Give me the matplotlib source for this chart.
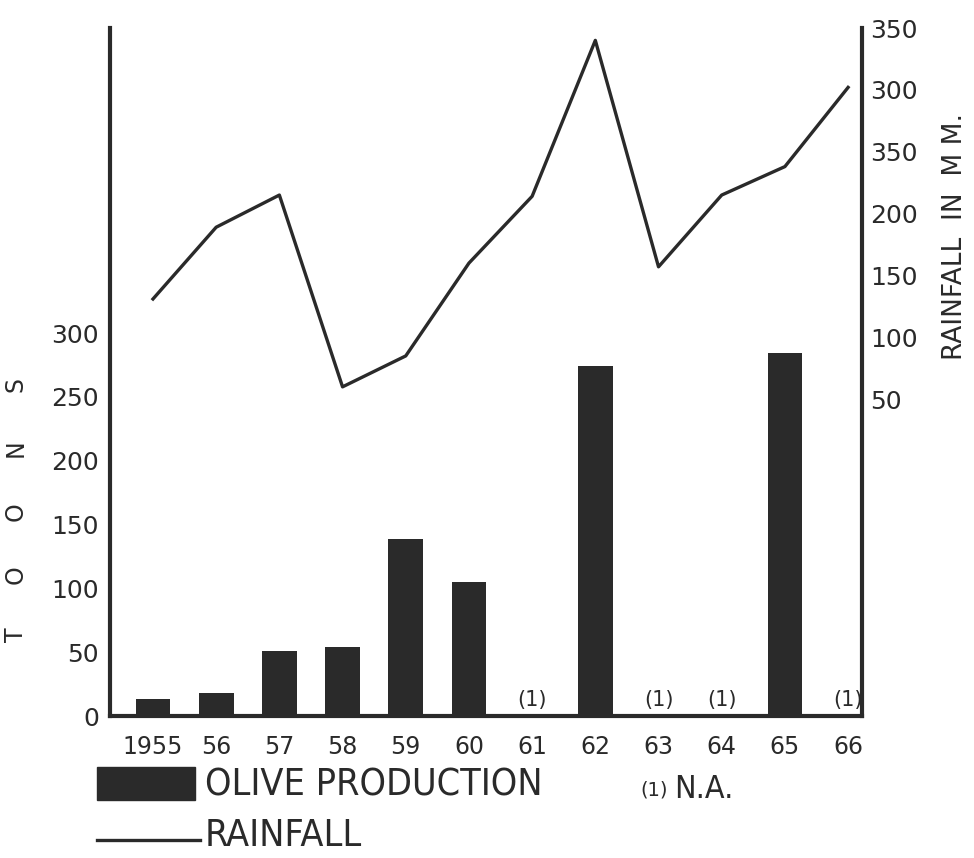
import matplotlib.pyplot as plt
from matplotlib.patches import Rectangle
from matplotlib.lines import Line2D

years = ["1955", "56", "57", "58", "59", "60", "61", "62", "63", "64", "65", "66"]
# olive production in tons, None = not available
olives = [13, 18, 51, 54, 139, 105, None, 274, None, None, 284, None]
# rainfall in mm
rainfall = [131, 189, 215, 60, 85, 160, 214, 340, 157, 215, 238, 302]

left_ticks = [0, 50, 100, 150, 200, 250, 300]
right_ticks = [50, 100, 150, 200, 250, 300, 350]
right_labels = ["50", "100", "150", "200", "350", "300", "350"]

plt.rcParams['font.family'] = ['DejaVu Sans']
INK = '#2a2a2a'

fig = plt.figure(figsize=(9.74, 8.58), dpi=100)
ax = fig.add_axes([110 / 974, 1 - 716 / 858, (862 - 110) / 974, (716 - 28) / 858])
ax2 = ax.twinx()

x = list(range(len(years)))
for i, v in enumerate(olives):
    if v is None:
        ax.text(i, 5, "(1)", ha='center', va='bottom', fontsize=15, color=INK)
    else:
        ax.bar(i, v, width=0.55, color=INK)

ax2.plot(x, rainfall, color=INK, lw=2.4)

ax.set_xlim(-0.68, 11.22)
ax.set_ylim(0, 539)
ax2.set_ylim(-206, 350)

for a in (ax, ax2):
    for s in a.spines.values():
        s.set_visible(False)
ax.spines['left'].set_visible(True)
ax.spines['bottom'].set_visible(True)
ax2.spines['right'].set_visible(True)
for s in (ax.spines['left'], ax.spines['bottom'], ax2.spines['right']):
    s.set_linewidth(3)
    s.set_color(INK)

ax.set_xticks(x)
ax.set_xticklabels(years)
ax.set_yticks(left_ticks)
ax2.set_yticks(right_ticks)
ax2.set_yticklabels(right_labels)
ax.tick_params(axis='x', length=0, pad=14, labelsize=17, labelcolor=INK)
ax.tick_params(axis='y', length=0, pad=8, labelsize=18, labelcolor=INK)
ax2.tick_params(axis='y', length=0, pad=6, labelsize=18, labelcolor=INK)

# left axis title, letters spaced out
for ch, yy in zip("TOONS", [635, 575, 512, 448, 385]):
    fig.text(16 / 974, 1 - yy / 858, ch, rotation=90, ha='center', va='center',
             fontsize=17, color=INK)

fig.text(955 / 974, 1 - 236 / 858, "RAINFALL  IN  M M.", rotation=90,
         ha='center', va='center', fontsize=19, color=INK)

# legend drawn below the chart
fig.patches.append(Rectangle((97 / 974, 1 - 800 / 858), 98 / 974, 33 / 858,
                             transform=fig.transFigure, color=INK))
fig.text(205 / 974, 1 - 786 / 858, "OLIVE PRODUCTION", ha='left', va='center',
         fontsize=27, color=INK, fontstretch='condensed')
fig.text(640 / 974, 1 - 790 / 858, "(1)", ha='left', va='center', fontsize=14, color=INK)
fig.text(674 / 974, 1 - 789 / 858, "N.A.", ha='left', va='center', fontsize=23,
         color=INK, fontstretch='condensed')
fig.lines.append(Line2D([97 / 974, 200 / 974], [1 - 840 / 858, 1 - 840 / 858],
                        transform=fig.transFigure, color=INK, lw=2.4))
fig.text(205 / 974, 1 - 836 / 858, "RAINFALL", ha='left', va='center',
         fontsize=27, color=INK, fontstretch='condensed')

fig.savefig("out.png", dpi=100)
